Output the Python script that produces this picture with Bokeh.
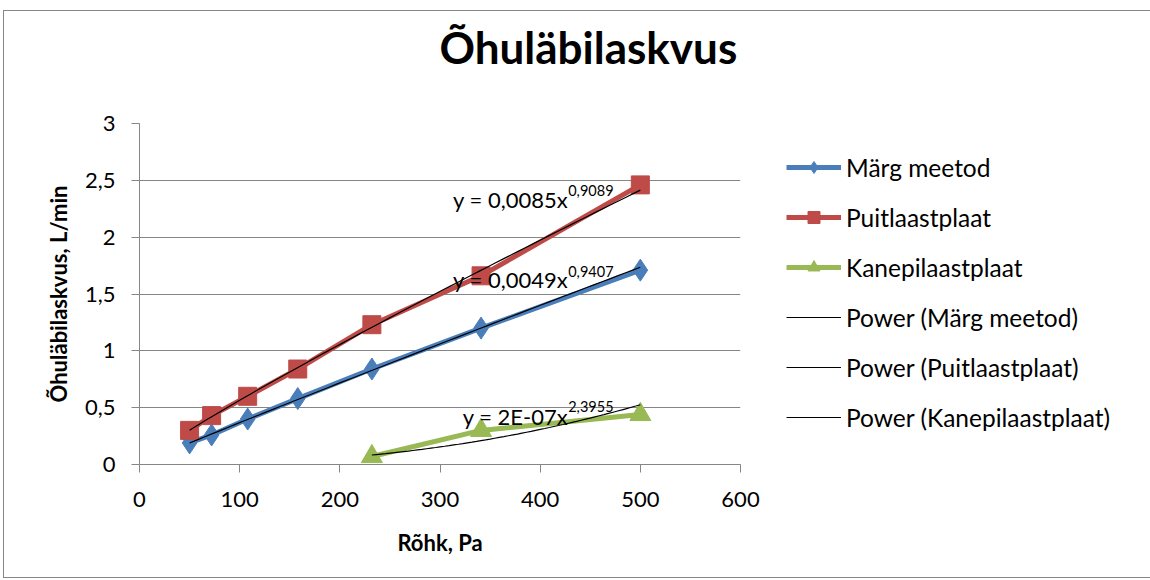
import numpy as np
from bokeh.plotting import figure
from bokeh.models import Legend, LegendItem, Label, FixedTicker, CustomJSTickFormatter, Title
from bokeh.embed import file_html
from bokeh.resources import INLINE

FONT = "Lato"

title_text = "Õhuläbilaskvus"
x_label = "Rõhk, Pa"
y_label = "Õhuläbilaskvus, L/min"

x_ticks = [0, 100, 200, 300, 400, 500, 600]
y_ticks = [0, 0.5, 1, 1.5, 2, 2.5, 3]

names = ["Märg meetod", "Puitlaastplaat", "Kanepilaastplaat"]
x_marg = [50, 72, 108, 158, 232, 341, 500]
y_marg = [0.19, 0.26, 0.40, 0.58, 0.84, 1.20, 1.71]
x_puit = [50, 72, 108, 158, 232, 341, 500]
y_puit = [0.30, 0.43, 0.60, 0.84, 1.23, 1.66, 2.46]
x_kanep = [232, 341, 500]
y_kanep = [0.07, 0.30, 0.44]

colors = ["#4A7EBB", "#BE4B48", "#98B954"]
markers = ["diamond", "square", "triangle"]
marker_sizes = [22, 18, 21]

eq_main = ["y = 0,0049x", "y = 0,0085x", "y = 2E-07x"]
eq_sup = ["0,9407", "0,9089", "2,3955"]
eq_x = [428, 428, 428]
eq_y_main = [1.627, 2.33, 0.425]
eq_y_sup = [1.697, 2.41, 0.513]

p = figure(frame_width=601, frame_height=341, output_backend="svg", toolbar_location=None,
           x_range=(0, 600), y_range=(0, 3),
           min_border_left=135, min_border_right=405, min_border_top=112, min_border_bottom=113)
p.styles = {"border": "1px solid #868686", "margin-left": "3px", "margin-top": "10px"}
p.outline_line_color = None
p.xgrid.visible = False
p.ygrid.grid_line_color = "#868686"
p.ygrid.grid_line_width = 1

for ax in (p.xaxis[0], p.yaxis[0]):
    ax.axis_line_color = "#868686"
    ax.major_tick_line_color = "#868686"
    ax.minor_tick_line_color = None
    ax.major_tick_in = 0
    ax.major_tick_out = 8
    ax.major_label_text_font = FONT
    ax.major_label_text_font_size = "22px"
    ax.major_label_text_color = "black"
    ax.axis_label_text_font = FONT
    ax.axis_label_text_font_size = "22px"
    ax.axis_label_text_font_style = "bold"
    ax.axis_label_text_color = "black"

p.xaxis.ticker = FixedTicker(ticks=x_ticks)
p.yaxis.ticker = FixedTicker(ticks=y_ticks)
p.yaxis.formatter = CustomJSTickFormatter(code="return tick.toString().replace('.', ',');")
p.xaxis.axis_label = x_label
p.yaxis.axis_label = y_label
p.xaxis.major_label_standoff = 19
p.xaxis.axis_label_standoff = 19
p.yaxis.major_label_standoff = 16
p.yaxis.axis_label_standoff = 10

xs = [x_marg, x_puit, x_kanep]
ys = [y_marg, y_puit, y_kanep]

series_items = []
trend_items = []
for i in range(3):
    ln = p.line(xs[i], ys[i], line_color=colors[i], line_width=5)
    sc = p.scatter(xs[i], ys[i], marker=markers[i], size=marker_sizes[i],
                   fill_color=colors[i], line_color=colors[i])
    series_items.append(LegendItem(label=names[i], renderers=[ln, sc]))

for i in range(3):
    lx = np.log(np.array(xs[i], dtype=float))
    ly = np.log(np.array(ys[i], dtype=float))
    b, a = np.polyfit(lx, ly, 1)
    tx = np.linspace(min(xs[i]), max(xs[i]), 60)
    ty = np.exp(a) * tx ** b
    tl = p.line(tx, ty, line_color="black", line_width=1.2)
    trend_items.append(LegendItem(label="Power (" + names[i] + ")", renderers=[tl]))

for i in range(3):
    p.add_layout(Label(x=eq_x[i], y=eq_y_main[i], text=eq_main[i], text_align="right",
                       text_baseline="alphabetic", text_font=FONT, text_font_size="22px",
                       text_color="black"))
    p.add_layout(Label(x=eq_x[i], y=eq_y_sup[i], text=eq_sup[i], text_align="left",
                       text_baseline="alphabetic", text_font=FONT, text_font_size="14.5px",
                       text_color="black"))

title = Title(text=title_text + "\n ", align="left", offset=300, vertical_align="bottom",
              standoff=6, text_line_height=0.92,
              text_font=FONT, text_font_size="44px", text_font_style="bold", text_color="black")
p.add_layout(title, "above")

legend = Legend(items=series_items + trend_items, location=(46, 32))
legend.padding = 0
legend.margin = 0
legend.border_line_color = None
legend.background_fill_alpha = 0
legend.glyph_width = 55
legend.glyph_height = 30
legend.label_height = 30
legend.spacing = 20
legend.label_standoff = 5
legend.label_text_font = FONT
legend.label_text_font_size = "24.5px"
legend.label_text_color = "black"
p.add_layout(legend, "right")

open("out.html", "w").write(file_html(p, INLINE))
